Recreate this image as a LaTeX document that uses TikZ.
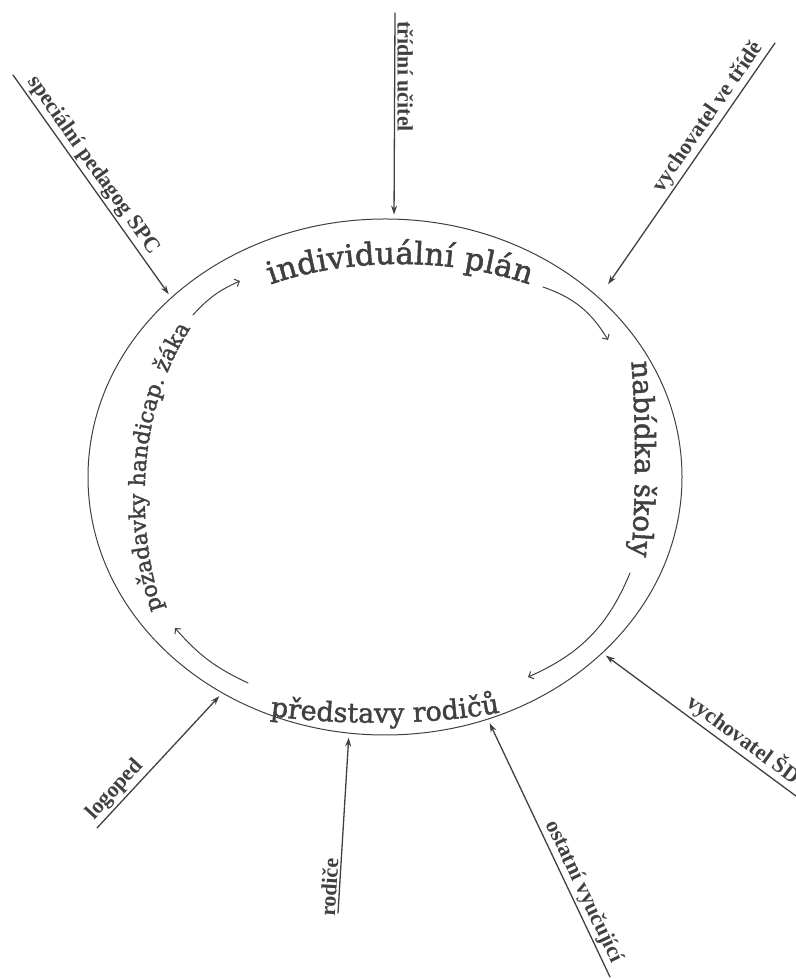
\documentclass[tikz,border=0pt]{standalone}
\usepackage{fontspec}
\setmainfont{Liberation Serif}
\newfontfamily\oblouk[FakeBold=1.6]{DejaVu Serif}
\usetikzlibrary{arrows.meta, shapes.geometric, decorations.text}

\definecolor{tuzka}{gray}{0.25}

\begin{document}
\begin{tikzpicture}[x=1pt, y=1pt, line cap=round,
    popisek/.style={font=\fontsize{22}{22}\selectfont\bfseries, text=tuzka, inner sep=2pt},
    vstup/.style={color=tuzka, line width=1.3pt, -{Stealth[length=9pt, width=6pt]}, shorten >=4pt},
    kolo/.style={draw=tuzka, line width=1pt, -{Straight Barb[length=4pt, width=8pt]}},
    napis/.style={decorate, decoration={text along path, text align=center, text color=tuzka, text={#1}}}]
\useasboundingbox (0,0) rectangle (795,979);

\node[ellipse, draw=tuzka, line width=1pt, minimum width=594pt, minimum height=516pt, inner sep=0pt] (cyklus) at (385,502) {};

% texty po obvodu
\path[napis={|\oblouk\fontsize{31}{31}\selectfont|individuální plán}] (230,676) .. controls (320,728) and (480,728) .. (570,676);
\path[napis={|\oblouk\fontsize{28}{28}\selectfont|nabídka školy}] (626,665) .. controls (638,585) and (638,455) .. (626,375);
\path[napis={|\oblouk\fontsize{27}{27}\selectfont|představy rodičů}] (245,267) .. controls (330,252) and (445,252) .. (525,272);
\path[napis={|\oblouk\fontsize{22}{22}\selectfont|požadavky handicap. žáka}] (170,350) .. controls (132,439) and (132,579) .. (203,668);

% sipky v kruhu
\coordinate (k1) at (193,664);
\coordinate (k2) at (240,698);
\coordinate (k3) at (543,692);
\coordinate (k4) at (608,639);
\coordinate (k5) at (630,406);
\coordinate (k6) at (528,302);
\coordinate (k7) at (248,296);
\coordinate (k8) at (175,351);
\draw[kolo] (k1) to[bend left=12] (k2);
\draw[kolo] (k3) to[bend left=20] (k4);
\draw[kolo] (k5) to[bend left=22] (k6);
\draw[kolo] (k7) to[bend left=12] (k8);

% kdo prispiva
\coordinate (spc) at (13,904);
\coordinate (ucitel) at (395,966);
\coordinate (vtride) at (775,936);
\coordinate (vsd) at (800,180);
\coordinate (ostatni) at (610,2);
\coordinate (rodice) at (338,66);
\coordinate (logoped) at (97,151);

\path[vstup]
    (spc) edge node[popisek, sloped, above, pos=0.44] {speciální pedagog SPC} (cyklus.140)
    (ucitel) edge node[popisek, rotate=-90, anchor=south, pos=0.31] {třídní učitel} (cyklus.88)
    (vtride) edge[shorten >=16pt] node[popisek, sloped, above, pos=0.32] {vychovatel ve třídě} (cyklus.40)
    (vsd) edge node[popisek, sloped, above, pos=0.33] {vychovatel ŠD} (cyklus.-39)
    (ostatni) edge node[popisek, sloped, above, pos=0.31] {ostatní vyučující} (cyklus.-67)
    (rodice) edge node[popisek, sloped, above, pos=0.14] {rodiče} (cyklus.262)
    (logoped) edge node[popisek, sloped, above, pos=0.22] {logoped} (cyklus.233);
\end{tikzpicture}
\end{document}
